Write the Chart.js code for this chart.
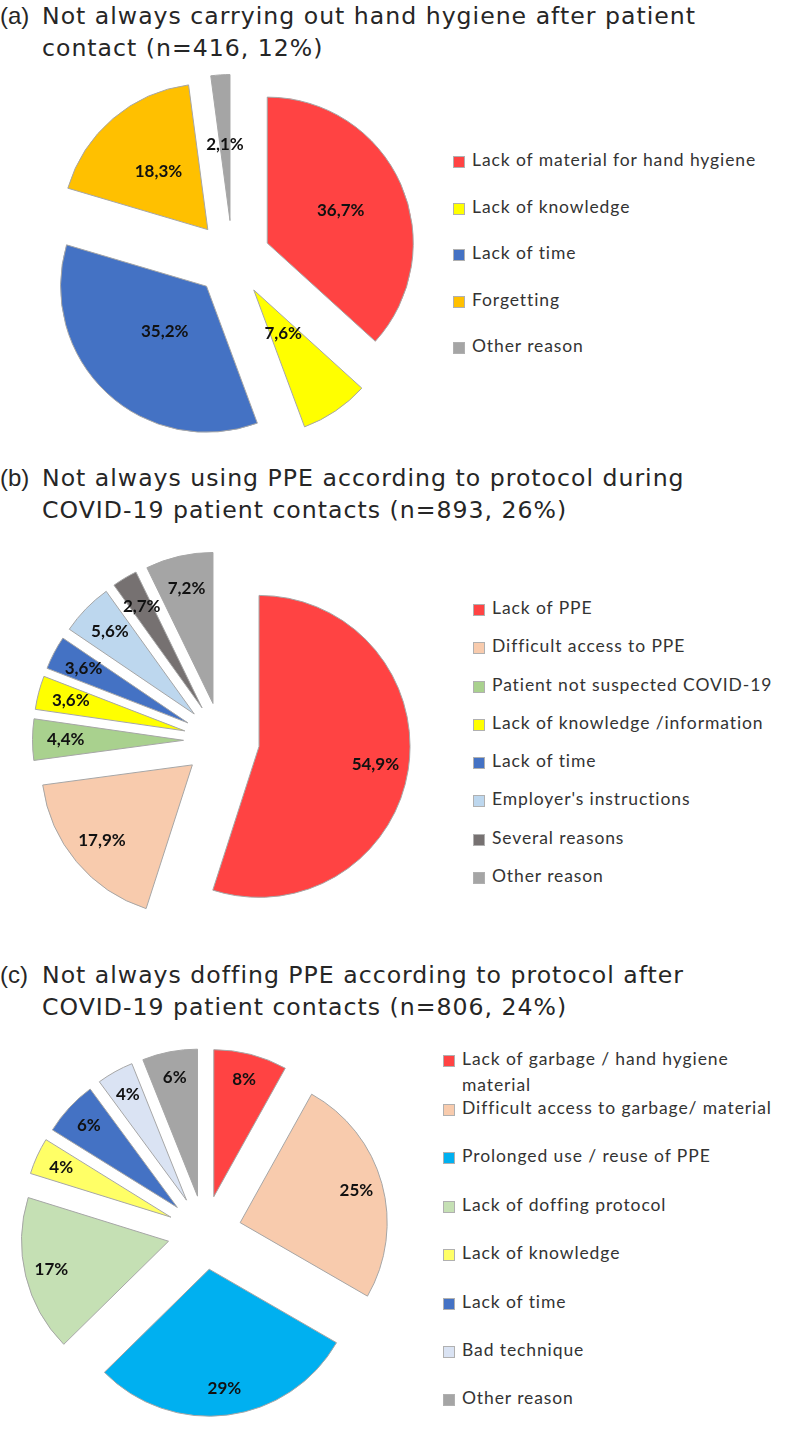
<!DOCTYPE html>
<html>
<head>
<meta charset="utf-8">
<script src="https://cdn.jsdelivr.net/npm/chart.js@4.4.1/dist/chart.umd.min.js"></script>
<style>
  body{margin:0;background:#fff;width:800px;height:1450px;position:relative;overflow:hidden;font-family:'DejaVu Sans',sans-serif}
  .title{position:absolute;left:0;width:790px;display:flex;color:#262626}
  .title .tag{flex:none;width:42px;font-family:'Liberation Sans',Arial,sans-serif;font-size:24px;line-height:32px}
  .title .txt{font-size:23.6px;line-height:32px;letter-spacing:1px;white-space:nowrap}
  canvas{position:absolute}
  .legend{position:absolute;font-family:Lato,sans-serif;font-size:17.5px;letter-spacing:0.9px;color:#333}
  .legend .item{display:flex;align-items:flex-start;line-height:26px}
  .legend .sw{width:10px;height:10px;border:1px solid #b0b0b0;margin:9px 7px 0 0;flex:none}
</style>
</head>
<body>

<div class="title" style="top:0"><span class="tag">(a)</span><span class="txt">Not always carrying out hand hygiene after patient<br>contact (n=416, 12%)</span></div>
<canvas id="pieA"></canvas>
<div class="legend" id="legA" style="left:453px;top:147px;width:340px"></div>

<div class="title" style="top:462px"><span class="tag">(b)</span><span class="txt">Not always using PPE according to protocol during<br>COVID-19 patient contacts (n=893, 26%)</span></div>
<canvas id="pieB"></canvas>
<div class="legend" id="legB" style="left:473px;top:595px;width:320px"></div>

<div class="title" style="top:959px"><span class="tag">(c)</span><span class="txt">Not always doffing PPE according to protocol after<br>COVID-19 patient contacts (n=806, 24%)</span></div>
<canvas id="pieC"></canvas>
<div class="legend" id="legC" style="left:443px;top:1046px;width:335px"></div>

<script>
// ---- (a) hand hygiene
const aLabels = ['Lack of material for hand hygiene','Lack of knowledge','Lack of time','Forgetting','Other reason'];
const aValues = [36.7, 7.6, 35.2, 18.3, 2.1];
const aColors = ['#ff4343','#ffff00','#4472c4','#ffc000','#a5a5a5'];

// ---- (b) PPE use
const bLabels = ['Lack of PPE','Difficult access to PPE','Patient not suspected COVID-19','Lack of knowledge /information',
                 'Lack of time',"Employer's instructions",'Several reasons','Other reason'];
const bValues = [54.9, 17.9, 4.4, 3.6, 3.6, 5.6, 2.7, 7.2];
const bColors = ['#ff4343','#f8cbad','#a9d18e','#ffff00','#4472c4','#bdd7ee','#767171','#a5a5a5'];

// ---- (c) PPE doffing
const cLabels = ['Lack of garbage / hand hygiene material','Difficult access to garbage/ material','Prolonged use / reuse of PPE',
                 'Lack of doffing protocol','Lack of knowledge','Lack of time','Bad technique','Other reason'];
const cValues = [8, 25, 29, 17, 4, 6, 4, 6];
const cColors = ['#ff4343','#f8cbad','#00b0f0','#c5e0b4','#ffff66','#4472c4','#dae3f3','#a5a5a5'];

const fmt = (v, dec) => v.toFixed(dec).replace('.', ',') + '%';

// exploded pie: every slice pushed out along its bisector, then % labels on top
const explodePlugin = {
  id: 'explode',
  beforeDatasetDraw(chart, args){
    const ds = chart.data.datasets[args.index];
    const d = ds.explode || 0;
    const ctx = chart.ctx;
    args.meta.data.forEach(arc => {
      const a = (arc.startAngle + arc.endAngle) / 2;
      ctx.save();
      ctx.translate(Math.cos(a) * d, Math.sin(a) * d);
      arc.draw(ctx, chart.chartArea);
      ctx.restore();
    });
    return false;
  },
  afterDatasetsDraw(chart){
    const ds = chart.data.datasets[0];
    const meta = chart.getDatasetMeta(0);
    const ctx = chart.ctx;
    ctx.save();
    ctx.font = 'bold 17px Lato, sans-serif';
    ctx.fillStyle = '#111';
    ctx.textAlign = 'center';
    ctx.textBaseline = 'middle';
    meta.data.forEach((arc, i) => {
      const a = (arc.startAngle + arc.endAngle) / 2;
      const at = Array.isArray(ds.labelAt) ? ds.labelAt[i] : ds.labelAt;
      const r = (ds.explode || 0) + arc.outerRadius * at;
      ctx.fillText(fmt(ds.data[i], ds.dec), arc.x + Math.cos(a) * r, arc.y + Math.sin(a) * r);
    });
    ctx.restore();
  }
};

function makePie(id, values, colors, opts){
  const cv = document.getElementById(id);
  const pad = 45;
  const size = Math.round(opts.r * 2 + 1 + pad * 2);
  cv.width = size; cv.height = size;
  cv.style.left = Math.round(opts.cx - size / 2) + 'px';
  cv.style.top  = Math.round(opts.cy - size / 2) + 'px';
  return new Chart(cv, {
    type: 'pie',
    data: { labels: values.map((_, i) => i), datasets: [{
      data: values, backgroundColor: colors, borderColor: '#a6a6a6', borderWidth: 1,
      explode: opts.explode, labelAt: opts.labelAt, dec: opts.dec
    }]},
    options: {
      responsive: false, animation: false,
      layout: { padding: pad },
      plugins: { legend: { display: false }, tooltip: { enabled: false } }
    },
    plugins: [explodePlugin]
  });
}

function makeLegend(id, labels, colors, gap){
  document.getElementById(id).innerHTML = labels.map((t, i) =>
    `<div class="item" style="margin-bottom:${gap}px"><span class="sw" style="background:${colors[i]}"></span><span>${t}</span></div>`
  ).join('');
}

makePie('pieA', aValues, aColors, { cx: 232, cy: 258, r: 146, explode: 38, labelAt: [0.55, 0.36, 0.42, 0.52, 0.52], dec: 1 });
makePie('pieB', bValues, bColors, { cx: 221, cy: 740, r: 151, explode: 38, labelAt: 0.78, dec: 1 });
makePie('pieC', cValues, cColors, { cx: 204, cy: 1232, r: 147, explode: 37, labelAt: 0.82, dec: 0 });

makeLegend('legA', aLabels, aColors, 20.5);
makeLegend('legB', bLabels, bColors, 12.3);
makeLegend('legC', cLabels, cColors, 22.4);
document.querySelector('#legC .item').style.marginBottom = '-3px';
</script>
</body>
</html>
